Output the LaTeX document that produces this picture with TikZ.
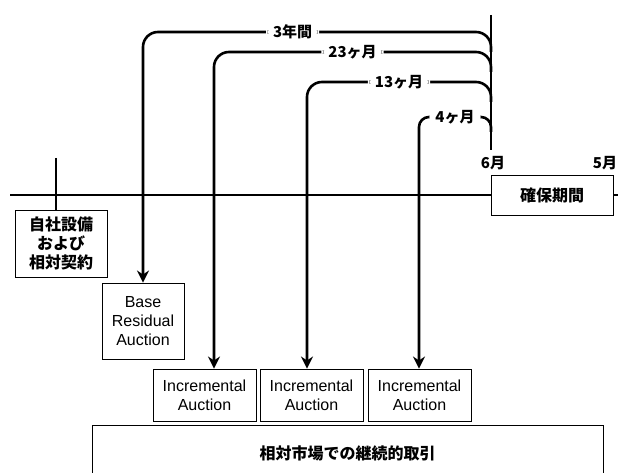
\documentclass[tikz,border=0pt]{standalone}
\usepackage{fontspec}
\setmainfont{Liberation Sans}
\newfontfamily\jpfont{Noto Sans CJK JP}
\usepackage{tikz}
\usetikzlibrary{arrows.meta,positioning,calc}
\tikzstyle{plainbox}=[draw, line width=0.9pt, align=center, inner sep=0pt, font=\fontsize{16}{19}\selectfont]
\tikzstyle{jpbox}=[plainbox, font=\jpfont\bfseries\fontsize{16}{19}\selectfont]
\tikzstyle{spanlbl}=[fill=white, inner xsep=7pt, inner ysep=1pt, font=\jpfont\bfseries\fontsize{15}{18}\selectfont]
\tikzstyle{monthlbl}=[inner sep=0pt, font=\jpfont\bfseries\fontsize{15}{18}\selectfont]
\tikzstyle{arcline}=[line width=2.6pt, rounded corners=15pt, -{Stealth[length=12pt,width=12pt]}]
\tikzstyle{spanbar}=[line width=2.6pt]
\tikzstyle{timeline}=[line width=1.8pt]

\begin{document}
\begin{tikzpicture}[x=1pt,y=-1pt]
    \useasboundingbox (0,0) rectangle (618,473);
    \clip (0,0) rectangle (618,473);

    % Zeitachse und Boxen
    \node[jpbox, minimum width=122pt, minimum height=40pt] (kakuho) at (552,195) {確保期間};
    \node[jpbox, minimum width=92pt, minimum height=67pt] (jisha) at (61,243.5) {自社設備\\および\\相対契約};
    \node[plainbox, minimum width=82pt, minimum height=76pt] (bra) at (143,321) {Base\\Residual\\Auction};
    \foreach \nm/\cx in {inc1/204.5,inc2/311.5,inc3/419.5} {
      \node[plainbox, minimum width=103pt, minimum height=52pt] (\nm) at (\cx,395) {Incremental\\Auction};
    }
    \node[jpbox, minimum width=511pt, minimum height=56pt] (market) at (347.5,453) {相対市場での継続的取引};

    \coordinate (tlStart) at (10,195);
    \coordinate (tlEnd) at (618,195);
    \draw[timeline] (tlStart) -- (kakuho.west);
    \draw[timeline] (kakuho.east) -- (tlEnd);

    \coordinate (tickTop) at (56,158);
    \draw[line width=1.4pt] (tickTop) -- (tickTop |- jisha.north);

    \node[monthlbl] (jun) at (493,163) {6月};
    \node[monthlbl] (may) at (605,163) {5月};

    % Stichtag und Vorlaufzeiten
    \coordinate (barTop) at (491,15);
    \coordinate (barBot) at (491,150);
    \draw[spanbar] (barTop) -- (barBot);

    \coordinate (c3y) at (143,32);
    \coordinate (c23) at (214,52);
    \coordinate (c13) at (307,82);
    \coordinate (c4) at (419,117);

    \draw[arcline] (491,52) -- (barTop |- c3y) -- node[spanlbl, pos=0.57] (l3y) {3年間} (c3y) -- (bra.north);
    \draw[arcline] (491,72) -- (barTop |- c23) -- node[spanlbl] (l23) {23ヶ月} (c23) -- (c23 |- inc1.north);
    \draw[arcline] (491,102) -- (barTop |- c13) -- node[spanlbl] (l13) {13ヶ月} (c13) -- (c13 |- inc2.north);
    \draw[arcline, rounded corners=10pt] (491,132) -- (barTop |- c4) -- node[spanlbl, inner xsep=6pt] (l4) {4ヶ月} (c4) -- (c4 |- inc3.north);
  \end{tikzpicture}
\end{document}
